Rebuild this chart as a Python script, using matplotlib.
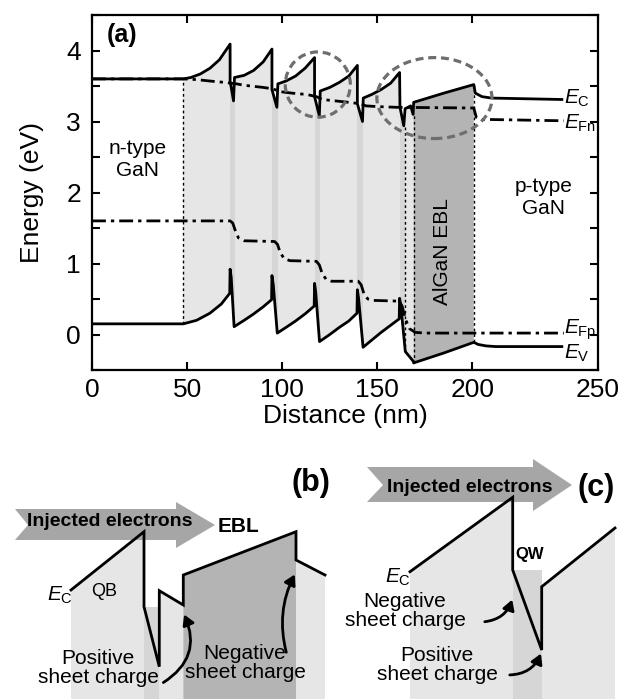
import matplotlib
matplotlib.use("Agg")
import matplotlib.pyplot as plt
import numpy as np
from matplotlib.patches import Polygon, Ellipse, FancyArrowPatch, Rectangle

plt.rcParams["font.family"] = ["Liberation Sans", "DejaVu Sans"]
plt.rcParams["mathtext.fontset"] = "custom"
plt.rcParams["mathtext.rm"] = "Liberation Sans"
plt.rcParams["mathtext.it"] = "Liberation Sans:italic"

# ---- panel (a): band diagram (nm, eV) ----
ec_x = [0, 48, 52, 57, 62, 67, 72.6,
        72.6, 74.4, 74.9, 80, 85, 90, 94.6,
        94.6, 97.2, 97.7, 102, 107, 112, 117,
        117, 119.5, 120, 125, 130, 135, 139.5,
        139.5, 142.2, 142.6, 147, 152, 157, 161.7,
        161.9, 163.9, 164.6, 167.5, 168.8, 169.1,
        185, 200.7, 201.5, 205, 210, 247]
ec_y = [3.60, 3.60, 3.62, 3.67, 3.75, 3.87, 4.09,
        3.57, 3.29, 3.62, 3.65, 3.72, 3.84, 4.02,
        3.45, 3.20, 3.53, 3.57, 3.64, 3.75, 3.90,
        3.35, 3.08, 3.43, 3.48, 3.55, 3.64, 3.79,
        3.25, 3.00, 3.33, 3.38, 3.45, 3.54, 3.69,
        3.20, 2.94, 3.18, 3.22, 3.10, 3.27,
        3.40, 3.52, 3.40, 3.35, 3.33, 3.31]

ev_x = [0, 48, 55, 62, 68, 72.4, 72.6, 73.2, 74.7,
        80, 85, 90, 94.4, 94.6, 95.3, 97.4,
        102, 107, 112, 116.8, 117, 117.6, 119.6,
        125, 130, 135, 139.3, 139.5, 140.1, 142.5,
        147, 152, 157, 161.5, 161.7, 162.3, 164.7, 169.0, 169.1,
        185, 200.7, 203, 207, 212, 247]
ev_y = [0.15, 0.15, 0.20, 0.30, 0.43, 0.58, 0.92, 0.80, 0.11,
        0.20, 0.29, 0.39, 0.49, 0.83, 0.70, 0.02,
        0.10, 0.19, 0.29, 0.40, 0.72, 0.60, -0.10,
        0.00, 0.10, 0.19, 0.30, 0.63, 0.52, -0.18,
        -0.08, 0.03, 0.13, 0.22, 0.51, 0.42, -0.24, -0.38, -0.40,
        -0.26, -0.11, -0.14, -0.16, -0.17, -0.17]

efn_x = [0, 48, 55, 62, 70, 76, 80, 90, 95, 99, 105, 113, 118, 121,
         128, 135, 141, 144, 150, 160, 200.7, 202, 205, 248]
efn_y = [3.60, 3.60, 3.59, 3.57, 3.55, 3.53, 3.51, 3.48, 3.46, 3.42, 3.40,
         3.38, 3.35, 3.31, 3.29, 3.27, 3.25, 3.22, 3.21, 3.20, 3.19, 3.06,
         3.03, 3.01]

efp_x = [0, 72.6, 74, 75.5, 77, 80, 96, 97.5, 99, 101, 104, 118, 119.5,
         121, 123, 126, 140, 141.5, 143, 145, 148, 161.5, 163, 165, 167,
         170, 175, 248]
efp_y = [1.60, 1.60, 1.57, 1.45, 1.36, 1.32, 1.31, 1.27, 1.15, 1.07, 1.04,
         1.03, 0.98, 0.86, 0.78, 0.75, 0.75, 0.70, 0.57, 0.50, 0.48, 0.47,
         0.40, 0.20, 0.08, 0.03, 0.02, 0.02]

qw_start = [72.6, 94.6, 117.0, 139.5, 161.7]
qw_end = [75.0, 97.6, 120.0, 142.5, 164.7]

# interfaces marked with dotted lines: x, E_V side, E_C side
iface_x = [48, 164.7, 169.1, 200.7]
iface_lo = [0.15, -0.24, -0.40, -0.11]
iface_hi = [3.60, 2.94, 3.10, 3.52]

active_lim = (48, 169.1)
ebl_lim = (169.1, 200.7)

# ---- panels (b), (c): schematic conduction band, picture units ----
b_ec_x = [71, 144, 144, 159.3, 159.3, 183.3, 183.3, 296, 296, 325]
b_ec_y = [590, 531.7, 606.7, 666.7, 590.7, 605, 575, 531.7, 560, 575]
b_arrow_x = [15, 176, 176, 215, 176, 176, 15, 28]
b_arrow_y = [509, 509, 502, 525, 548, 540, 540, 525]

c_ec_x = [410, 512.7, 512.7, 541.7, 541.7, 615]
c_ec_y = [571.7, 497.3, 570, 650, 586.7, 528]
c_arrow_x = [367, 533, 533, 572, 533, 533, 367, 383]
c_arrow_y = [467, 467, 459, 485, 511, 502, 502, 485]

LIGHT = "#e6e6e6"
QWC = "#d6d6d6"
EBLC = "#b4b4b4"
ARROWC = "#a6a6a6"

fig = plt.figure(figsize=(6.21, 6.99), dpi=100)
ax = fig.add_axes([92 / 621, 1 - 370 / 699, 506 / 621, 355 / 699])

ec_x, ec_y = np.array(ec_x), np.array(ec_y)
ev_x, ev_y = np.array(ev_x), np.array(ev_y)


def region(lo, hi):
    m1 = (ec_x >= lo) & (ec_x <= hi)
    m2 = (ev_x >= lo) & (ev_x <= hi)
    xs = np.concatenate([ec_x[m1], ev_x[m2][::-1]])
    ys = np.concatenate([ec_y[m1], ev_y[m2][::-1]])
    return np.column_stack([xs, ys])


act = Polygon(region(*active_lim), closed=True, fc=LIGHT, ec="none", zorder=1)
ax.add_patch(act)
for s, e in zip(qw_start, qw_end):
    sp = ax.axvspan(s, e, color=QWC, lw=0, zorder=1.5)
    sp.set_clip_path(act)
ax.add_patch(Polygon(region(*ebl_lim), closed=True, fc=EBLC, ec="none", zorder=1))

ax.vlines(iface_x, iface_lo, iface_hi, colors="k", lw=1,
          linestyles=(0, (2, 2)), zorder=2)

ax.plot(ec_x, ec_y, color="k", lw=2, zorder=4)
ax.plot(ev_x, ev_y, color="k", lw=2, zorder=4)
dashdot = (0, (5, 1.8, 1.2, 1.8))
ax.plot(efn_x, efn_y, color="k", lw=2, ls=dashdot, zorder=3)
ax.plot(efp_x, efp_y, color="k", lw=2, ls=dashdot, zorder=3)

circ = dict(fill=False, ec="#6e6e6e", lw=2.3, ls=(0, (2.5, 1.5)), zorder=5)
ax.add_patch(Ellipse((118.7, 3.52), 34.2, 0.92, **circ))
ax.add_patch(Ellipse((180.0, 3.33), 60.5, 1.14, **circ))

ax.set_xlim(0, 266)
ax.set_ylim(-0.5, 4.5)
ax.set_xticks([0, 50, 100, 150, 200, 266], ["0", "50", "100", "150", "200", "250"])
ax.set_yticks([0, 1, 2, 3, 4])
ax.set_yticks(np.arange(-0.5, 4.6, 0.5), minor=True)
ax.tick_params(which="both", direction="in", top=True, right=True,
               length=6, width=1.5, labelsize=19, pad=6)
ax.tick_params(axis="y", pad=8)
for sp_ in ax.spines.values():
    sp_.set_linewidth(1.6)
ax.set_xlabel("Distance (nm)", fontsize=19, labelpad=1)
ax.set_ylabel("Energy (eV)", fontsize=19, labelpad=16)

ax.text(16, 4.22, "(a)", fontsize=18, fontweight="bold", ha="center", va="center")
ax.text(24, 2.46, "n-type\nGaN", fontsize=15, ha="center", va="center")
ax.text(237.6, 1.93, "p-type\nGaN", fontsize=15, ha="center", va="center")
ax.text(184.5, 1.17, "AlGaN EBL", fontsize=15, rotation=90, ha="center", va="center")
ax.text(248, 3.33, r"$E_{\rm C}$", fontsize=15, ha="left", va="center", zorder=6)
ax.text(248, 2.98, r"$E_{\rm Fn}$", fontsize=15, ha="left", va="center", zorder=6)
ax.text(248, 0.06, r"$E_{\rm Fp}$", fontsize=15, ha="left", va="center", zorder=6)
ax.text(248, -0.27, r"$E_{\rm V}$", fontsize=15, ha="left", va="center", zorder=6)

# ---- lower schematics ----
bx = fig.add_axes([0, 0, 1, 279 / 699])
bx.set_xlim(0, 621)
bx.set_ylim(699, 420)
bx.axis("off")

BOT = 699


def under(xs, ys, lo, hi):
    xs, ys = np.array(xs), np.array(ys)
    m = (xs >= lo) & (xs <= hi)
    px = np.concatenate([xs[m], [xs[m][-1], xs[m][0]]])
    py = np.concatenate([ys[m], [BOT, BOT]])
    return np.column_stack([px, py])


# (b)
bx.add_patch(Polygon(under(b_ec_x, b_ec_y, 71, 183.3), fc=LIGHT, ec="none", zorder=1))
bx.add_patch(Rectangle((144, b_ec_y[2]), 159.3 - 144, BOT - b_ec_y[2], fc=QWC, ec="none", zorder=1.2))
bx.add_patch(Polygon(under(b_ec_x[6:], b_ec_y[6:], 183.3, 296), fc=EBLC, ec="none", zorder=1))
bx.add_patch(Polygon(under(b_ec_x[8:], b_ec_y[8:], 296, 325), fc=LIGHT, ec="none", zorder=1))
bx.add_patch(Polygon(np.column_stack([b_arrow_x, b_arrow_y]), fc=ARROWC, ec="none", zorder=2))
bx.plot(b_ec_x, b_ec_y, color="k", lw=2, zorder=4, solid_joinstyle="miter")
bx.text(110, 521, "Injected electrons", fontsize=14, fontweight="bold", ha="center", va="center", zorder=5)
bx.text(218, 527, "EBL", fontsize=15, fontweight="bold", ha="left", va="center")
bx.text(330, 483, "(b)", fontsize=22, fontweight="bold", ha="right", va="center")
bx.text(60, 595, r"$E_{\rm C}$", fontsize=15, ha="center", va="center")
bx.text(104, 592, "QB", fontsize=13, ha="center", va="center")
bx.text(98, 668, "Positive\nsheet charge", fontsize=15, ha="center", va="center", linespacing=1.0)
bx.text(245, 663, "Negative\nsheet charge", fontsize=15, ha="center", va="center", linespacing=1.0)
arr = dict(arrowstyle="-|>,head_length=6,head_width=3.5", color="k", lw=2, zorder=6)
bx.add_patch(FancyArrowPatch((161, 684), (183, 612), connectionstyle="arc3,rad=0.45", **arr))
bx.add_patch(FancyArrowPatch((287, 655), (296, 572), connectionstyle="arc3,rad=-0.2", **arr))

# (c)
bx.add_patch(Polygon(under(c_ec_x, c_ec_y, 410, 615), fc=LIGHT, ec="none", zorder=1))
bx.add_patch(Rectangle((512.7, c_ec_y[2]), 541.7 - 512.7, BOT - c_ec_y[2], fc=QWC, ec="none", zorder=1.2))
bx.add_patch(Polygon(np.column_stack([c_arrow_x, c_arrow_y]), fc=ARROWC, ec="none", zorder=2))
bx.plot(c_ec_x, c_ec_y, color="k", lw=2, zorder=4, solid_joinstyle="miter")
bx.text(470, 488, "Injected electrons", fontsize=14, fontweight="bold", ha="center", va="center", zorder=5)
bx.text(596, 488, "(c)", fontsize=22, fontweight="bold", ha="center", va="center")
bx.text(515, 555, "QW", fontsize=12, fontweight="bold", ha="left", va="center")
bx.text(398, 577, r"$E_{\rm C}$", fontsize=15, ha="center", va="center")
bx.text(405, 611, "Negative\nsheet charge", fontsize=15, ha="center", va="center", linespacing=1.0)
bx.text(437, 665, "Positive\nsheet charge", fontsize=15, ha="center", va="center", linespacing=1.0)
bx.add_patch(FancyArrowPatch((482, 622), (513, 597), connectionstyle="arc3,rad=0.35", **arr))
bx.add_patch(FancyArrowPatch((507, 675), (542, 651), connectionstyle="arc3,rad=0.35", **arr))

fig.savefig("out.png", dpi=100)
